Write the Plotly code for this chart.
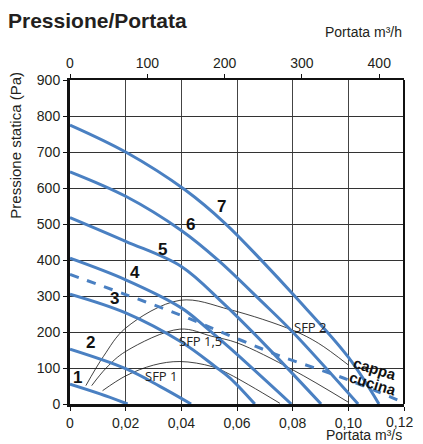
import plotly.graph_objects as go

# ---- data ----
c1_x = [0, 0.0108, 0.0207]
c1_y = [55, 28, 0]
c2_x = [0, 0.02, 0.0323, 0.0435]
c2_y = [152, 98, 49, 0]
c3_x = [0, 0.02, 0.04, 0.052, 0.0575, 0.0664]
c3_y = [305, 253, 172, 105, 72, 0]
c4_x = [0, 0.02, 0.04, 0.0485, 0.0575, 0.0795]
c4_y = [405, 345, 267, 215, 155, 0]
c5_x = [0, 0.02, 0.04, 0.055, 0.07, 0.0902]
c5_y = [518, 452, 382, 280, 165, 0]
c6_x = [0, 0.02, 0.04, 0.0533, 0.0688, 0.08, 0.1035]
c6_y = [645, 577, 482, 399, 285, 200, 0]
c7_x = [0, 0.02, 0.0413, 0.0557, 0.0688, 0.0808, 0.10, 0.111]
c7_y = [775, 700, 595, 502, 399, 299, 130, 0]
cappa_x = [0, 0.02, 0.04, 0.058, 0.076, 0.094, 0.101, 0.12]
cappa_y = [360, 304, 246, 188, 132, 84, 64, 4]

sfp2_x = [0.0057, 0.012, 0.02, 0.0395, 0.0575, 0.08, 0.0892, 0.0999]
sfp2_y = [51, 132, 211, 288, 262, 205, 169, 109]
sfp15_x = [0.0078, 0.013, 0.02, 0.0395, 0.051, 0.06, 0.08, 0.10]
sfp15_y = [51, 100, 146, 208, 188, 170, 95, 5]
sfp1_x = [0.0117, 0.02, 0.03, 0.0395, 0.051, 0.0575, 0.0754]
sfp1_y = [37, 78, 108, 118, 104, 82, 2]

curve_labels = ["1", "2", "3", "4", "5", "6", "7"]
label_x = [0.0026, 0.0074, 0.0159, 0.0233, 0.0333, 0.0434, 0.0543]
label_y = [74, 172, 294, 364, 430, 500, 549]

sfp_labels = ["SFP 2", "SFP 1,5", "SFP 1"]
sfp_lx = [0.0798, 0.0383, 0.0261]
sfp_ly = [213, 174, 77]

x_ticks = [0, 0.02, 0.04, 0.06, 0.08, 0.10, 0.12]
x_ticktext = ["0", "0,02", "0,04", "0,06", "0,08", "0,10", "0,12"]
y_ticks = [0, 100, 200, 300, 400, 500, 600, 700, 800, 900]
top_ticks = [0, 100, 200, 300, 400]

BLUE = "#4a80c2"
TXT = "#231f20"
FONT = "Liberation Sans"

fig = go.Figure()

# SFP thin black lines
for xs, ys in [(sfp2_x, sfp2_y), (sfp15_x, sfp15_y), (sfp1_x, sfp1_y)]:
    fig.add_trace(go.Scatter(x=xs, y=ys, mode="lines",
                             line=dict(color="#111", width=0.8, shape="spline"),
                             hoverinfo="skip", showlegend=False))

for xs, ys in [(c1_x, c1_y), (c2_x, c2_y), (c3_x, c3_y), (c4_x, c4_y),
               (c5_x, c5_y), (c6_x, c6_y), (c7_x, c7_y)]:
    fig.add_trace(go.Scatter(x=xs, y=ys, mode="lines",
                             line=dict(color=BLUE, width=3, shape="spline"),
                             showlegend=False))

fig.add_trace(go.Scatter(x=cappa_x, y=cappa_y, mode="lines",
                         line=dict(color=BLUE, width=3, dash="dash", shape="spline"),
                         showlegend=False))

# invisible trace for top axis
fig.add_trace(go.Scatter(x=[0, 432], y=[0, 0], xaxis="x2", mode="lines",
                         line=dict(width=0), opacity=0, hoverinfo="skip",
                         showlegend=False))

for t, x, y in zip(curve_labels, label_x, label_y):
    fig.add_annotation(x=x, y=y, text="<b>%s</b>" % t, showarrow=False,
                       font=dict(family=FONT, size=17, color="#111"),
                       xanchor="center", yanchor="middle")

for t, x, y in zip(sfp_labels, sfp_lx, sfp_ly):
    fig.add_annotation(x=x, y=y, text=t, showarrow=False,
                       font=dict(family="Open Sans", size=13, color="#222"),
                       xanchor="left", yanchor="middle")

fig.add_annotation(x=0.1094, y=100, text="<b>cappa</b>", showarrow=False,
                   textangle=17, font=dict(family=FONT, size=15, color="#111"),
                   xanchor="center", yanchor="middle")
fig.add_annotation(x=0.1088, y=58, text="<b>cucina</b>", showarrow=False,
                   textangle=17, font=dict(family=FONT, size=15, color="#111"),
                   xanchor="center", yanchor="middle")

# last bottom tick label kept inside the page as an annotation
fig.add_annotation(xref="paper", yref="paper", x=1.0, y=0, xshift=11, yshift=-18,
                   text=x_ticktext[-1], showarrow=False,
                   font=dict(family=FONT, size=14, color=TXT),
                   xanchor="right", yanchor="middle")

# axis titles
fig.add_annotation(xref="paper", yref="paper", x=-0.162, y=0.80,
                   text="Pressione statica (Pa)", textangle=-90, showarrow=False,
                   font=dict(family=FONT, size=15, color=TXT),
                   xanchor="center", yanchor="middle")
fig.add_annotation(xref="paper", yref="paper", x=1.0, y=-0.0957,
                   text="Portata m³/s", showarrow=False,
                   font=dict(family=FONT, size=14, color=TXT),
                   xanchor="right", yanchor="middle")
fig.add_annotation(xref="paper", yref="paper", x=1.0, y=1.147,
                   text="Portata m³/h", showarrow=False,
                   font=dict(family=FONT, size=14, color=TXT),
                   xanchor="right", yanchor="middle")

# right border
fig.add_shape(type="line", xref="paper", yref="paper", x0=1, x1=1, y0=0, y1=1,
              line=dict(color="#111", width=2))

W, H = 407, 436
fig.update_layout(
    width=W, height=H,
    margin=dict(l=62, r=11, t=72, b=40),
    paper_bgcolor="white", plot_bgcolor="white",
    title=dict(text="<b>Pressione/Portata</b>", x=0.0, xanchor="left",
               y=1 - 13/H, yanchor="middle",
               font=dict(family=FONT, size=21, color=TXT)),
    xaxis=dict(range=[0, 0.12], tickvals=x_ticks,
               ticktext=x_ticktext[:-1] + [""],
               showgrid=True, gridcolor="#444", gridwidth=1, zeroline=False,
               showline=True, linecolor="#111", linewidth=3,
               ticks="outside", ticklen=4, tickcolor="#111",
               automargin=False,
               tickfont=dict(family=FONT, size=14, color=TXT)),
    xaxis2=dict(range=[0, 432], overlaying="x", side="top", tickvals=top_ticks,
                showgrid=False, zeroline=False, showline=True,
                linecolor="#111", linewidth=2, ticks="outside", ticklen=4,
                tickcolor="#111", automargin=False,
                tickfont=dict(family=FONT, size=14, color=TXT)),
    yaxis=dict(range=[0, 900], tickvals=y_ticks, showgrid=True,
               gridcolor="#333", gridwidth=1, zeroline=False,
               showline=True, linecolor="#111", linewidth=3,
               ticks="outside", ticklen=4, tickcolor="#111", automargin=False,
               tickfont=dict(family=FONT, size=14, color=TXT)),
    showlegend=False,
)

fig.write_html("out.html")
